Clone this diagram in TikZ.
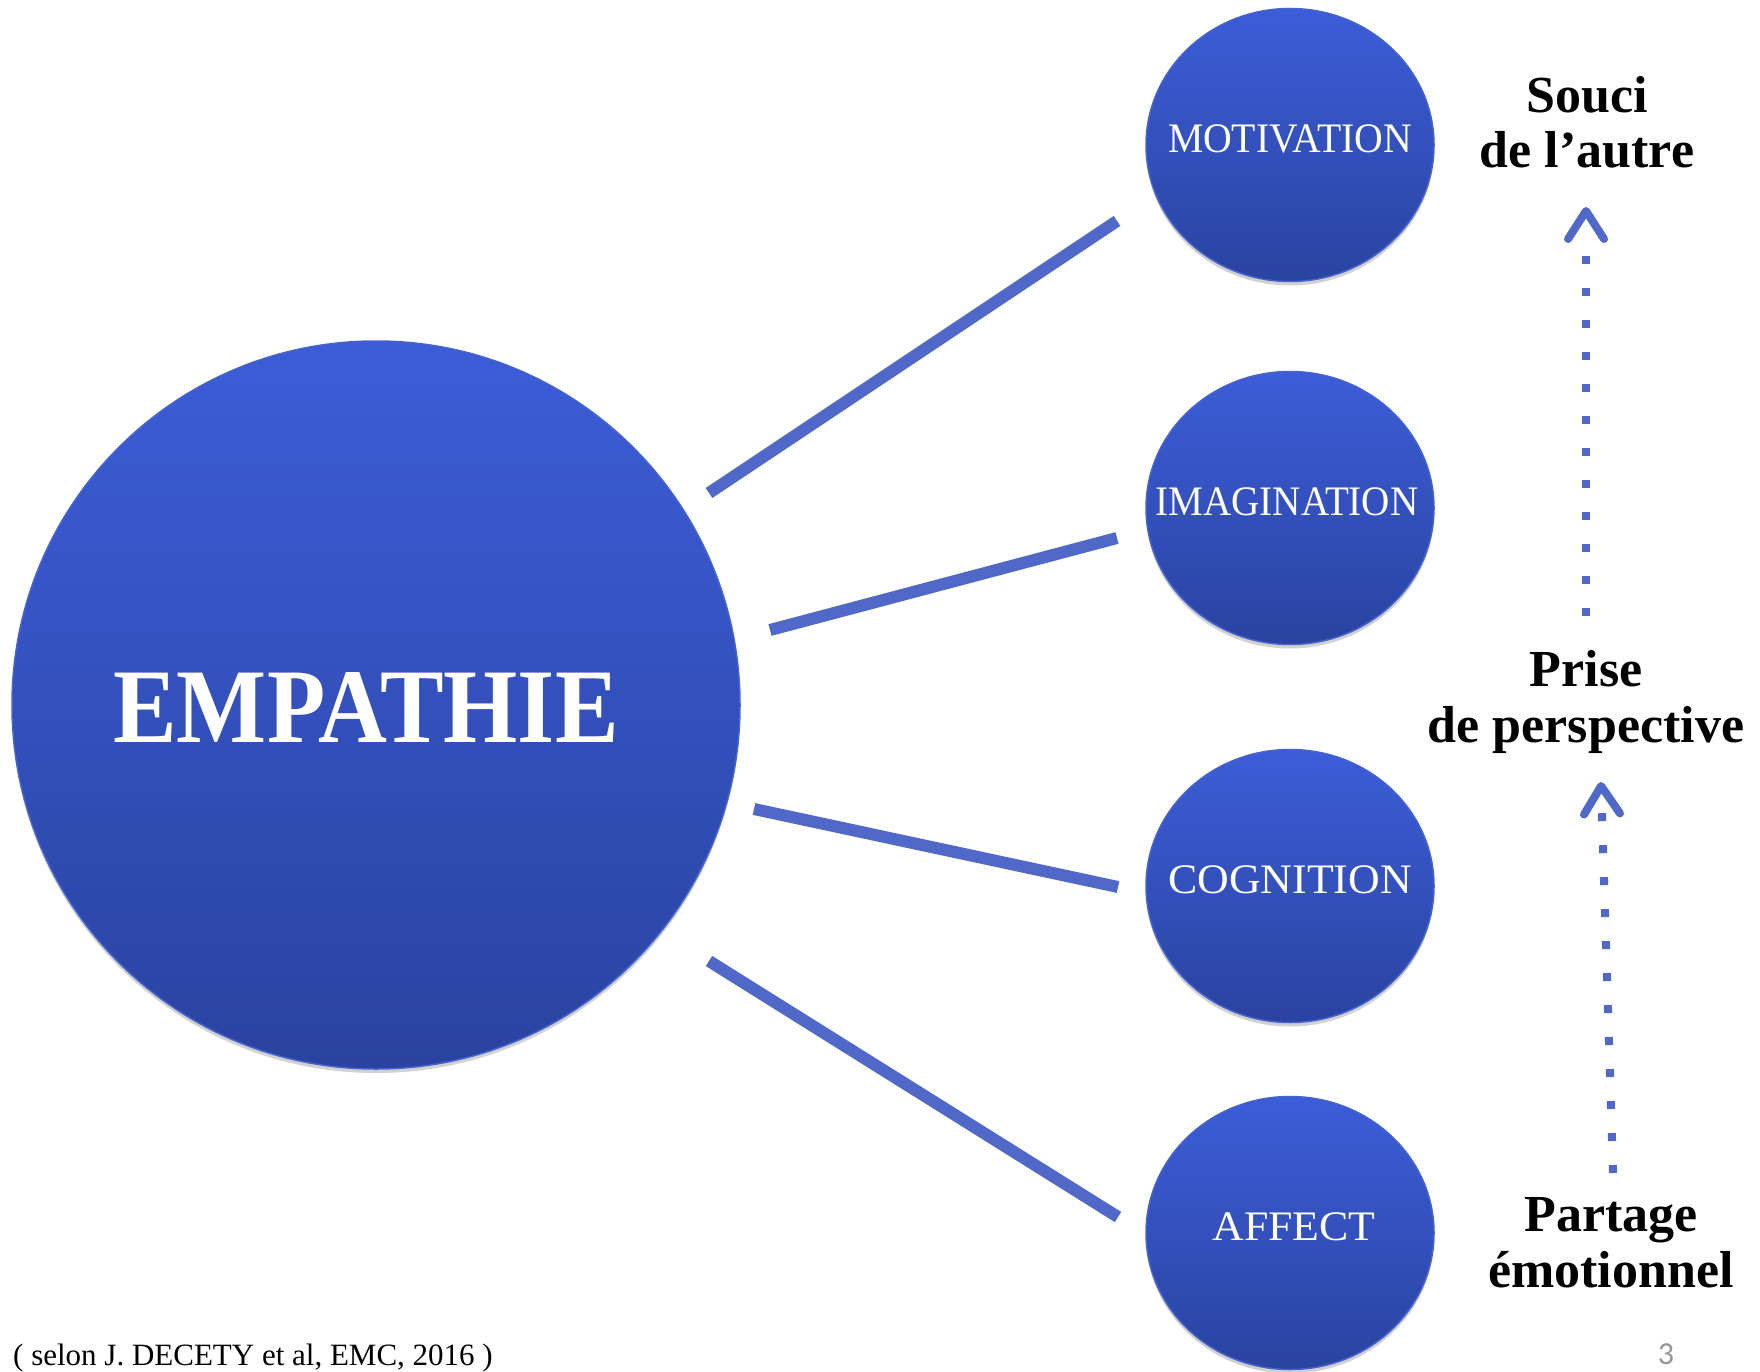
\documentclass[tikz,border=0pt]{standalone}
\usepackage{fontspec}
\usepackage{graphicx}
\setmainfont{Liberation Serif}
\newfontfamily\circfont[FakeStretch=0.9]{Liberation Serif}
\newfontfamily\empfont[FakeStretch=0.9]{Liberation Serif}
\newfontfamily\pagefont{Carlito}
\usetikzlibrary{shapes.geometric,arrows.meta,shadows}
\definecolor{circtop}{RGB}{60,93,216}
\definecolor{circbot}{RGB}{42,67,160}
\definecolor{circedge}{RGB}{70,98,205}
\definecolor{linkblue}{RGB}{80,104,200}
\definecolor{pagegray}{RGB}{150,150,150}
\newcommand{\circtext}[3][0pt]{\makebox[0pt]{\hspace*{#1}\scalebox{#2}[1]{#3}}}
\begin{document}
\begin{tikzpicture}[x=1pt,y=-1pt,
  softshadow/.style={drop shadow={shadow xshift=0pt,shadow yshift=-4pt,opacity=0.18,fill=black}},
  bigcirc/.style={circle,minimum size=728pt,inner sep=0pt,top color=circtop,bottom color=circbot,draw=circedge,line width=1.5pt,softshadow},
  smallcirc/.style={ellipse,minimum width=288pt,minimum height=273pt,inner sep=0pt,top color=circtop,bottom color=circbot,draw=circedge,line width=1.5pt,softshadow,text=white,font=\circfont\fontsize{42}{42}\selectfont,text depth=12pt},
  emptext/.style={text=white,font=\empfont\bfseries\fontsize{106}{106}\selectfont,inner sep=0pt,anchor=base},
  link/.style={draw=linkblue,line width=12pt},
  flow/.style={draw=linkblue,line width=8pt,
    dash pattern=on 8pt off 24pt on 8pt off 24pt on 8pt off 24pt on 8pt off 24pt on 8pt off 24pt on 8pt off 24pt on 8pt off 24pt on 8pt off 24pt on 8pt off 24pt on 8pt off 24pt on 8pt off 24pt on 8pt off 300pt,
    -{Straight Barb[length=28pt,width=36pt,line width=8pt,round]}},
  sidetext/.style={font=\bfseries\fontsize{52}{55.5}\selectfont,align=center,inner sep=0pt,anchor=base},
]
\useasboundingbox[fill=white] (0,0) rectangle (1760,1372);

% central circle
\node[bigcirc] (empathie) at (376,705) {};
\node[emptext] (emplabel) at (366,742) {EMPATHIE};

% small circles
\node[smallcirc] (motiv) at (1290,145) {\circtext{1.05}{MOTIVATION}};
\node[smallcirc] (imag) at (1290,508) {\circtext[-6pt]{1.035}{IMAGINATION}};
\node[smallcirc] (cogn) at (1290,886) {\circtext{1.16}{COGNITION}};
\node[smallcirc] (affect) at (1290,1233) {\circtext[8pt]{1.16}{AFFECT}};

% connector end points
\coordinate (l1a) at (709,493);  \coordinate (l1b) at (1117,221);
\coordinate (l2a) at (770,630);  \coordinate (l2b) at (1117,538);
\coordinate (l3a) at (754,809);  \coordinate (l3b) at (1118,887);
\coordinate (l4a) at (709,961);  \coordinate (l4b) at (1118,1217);
\draw[link] (l1a) -- (l1b);
\draw[link] (l2a) -- (l2b);
\draw[link] (l3a) -- (l3b);
\draw[link] (l4a) -- (l4b);

% side labels (anchor base = baseline of last line)
\node[sidetext] (souci) at (1587,168) {Souci\\de l’autre};
\node[sidetext] (prise) at (1586,742) {Prise\\de perspective};
\node[sidetext] (partage) at (1611,1287) {Partage\\émotionnel};

% dotted arrows
\coordinate (f1s) at (1586,616); \coordinate (f1e) at (1586,207);
\coordinate (f2s) at (1613,1173); \coordinate (f2e) at (1601,782);
\draw[flow] (f1s) -- (f1e);
\draw[flow] (f2s) -- (f2e);

% source and page number
\node[font=\fontsize{31}{31}\selectfont,anchor=base west,inner sep=0pt] (source) at (13,1365) {( selon J. DECETY et al, EMC, 2016 )};
\node[font=\pagefont\fontsize{32}{32}\selectfont,text=pagegray,anchor=base,inner sep=0pt] (page) at (1666,1364) {3};
\end{tikzpicture}
\end{document}
